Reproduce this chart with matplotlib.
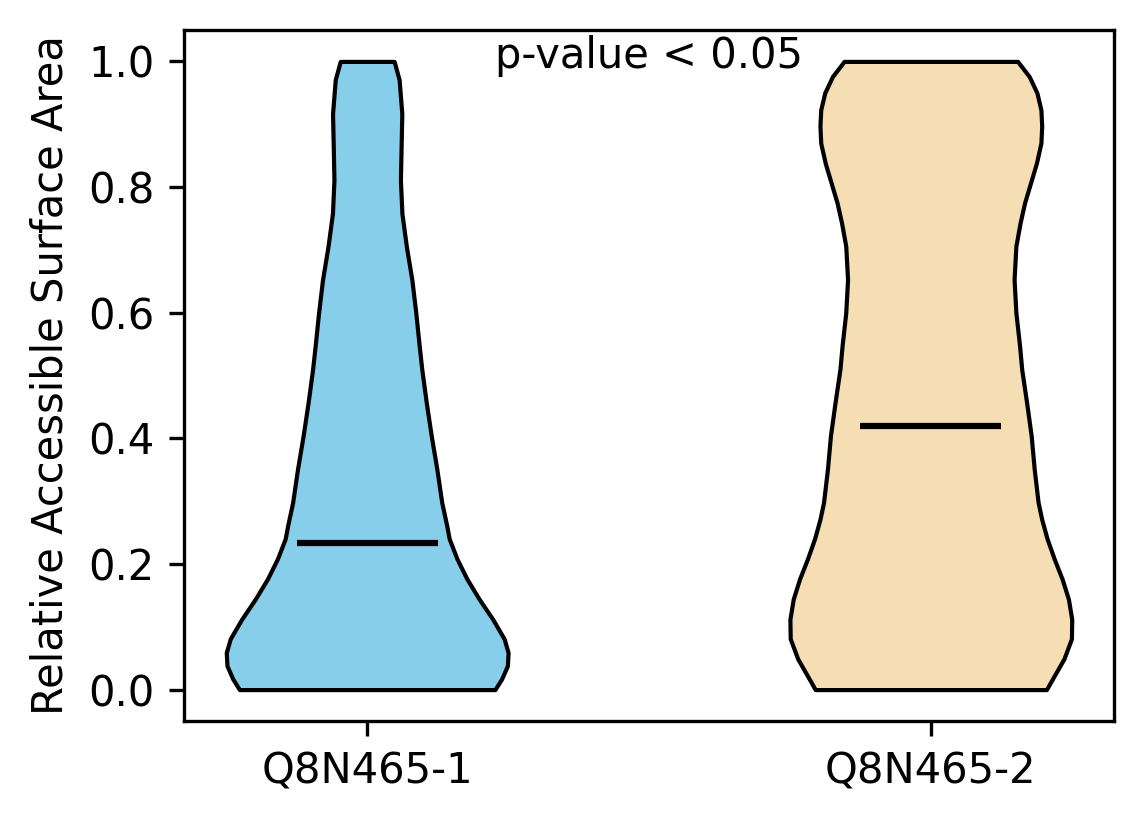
"""
Violin plot of relative accessible surface area for two isoforms
"""
import matplotlib
matplotlib.use('Agg')
import matplotlib.pyplot as plt
import numpy as np

labels = ['Q8N465-1', 'Q8N465-2']
colors = ['skyblue', 'wheat']

# density profile (y value, relative density)
rsa_1 = [0.0, 0.017, 0.038, 0.059, 0.081, 0.112, 0.144, 0.176, 0.208, 0.240,
         0.261, 0.298, 0.351, 0.404, 0.457, 0.51, 0.546, 0.6, 0.652, 0.705,
         0.758, 0.811, 0.865, 0.917, 0.971, 1.0]
dens_1 = [128, 134.7, 140.5, 141.2, 137.2, 125.8, 112.2, 100, 90, 82.2,
          79.7, 74.7, 69.8, 64.2, 59.2, 54.7, 52.2, 48.7, 44.8, 39.3,
          34.8, 33.3, 34.0, 34.7, 32.0, 27.0]
median_1 = 0.233

rsa_2 = [0.0, 0.022, 0.049, 0.081, 0.112, 0.144, 0.176, 0.208, 0.240, 0.271,
         0.298, 0.351, 0.404, 0.457, 0.51, 0.547, 0.6, 0.653, 0.706, 0.743,
         0.775, 0.807, 0.838, 0.870, 0.897, 0.923, 0.95, 0.976, 1.0]
dens_2 = [115.5, 123.3, 133, 140.5, 140.8, 137.5, 131.2, 123.3, 116.2, 110.8,
          107.2, 103.3, 100.3, 95.7, 90.8, 88.7, 85, 83.2, 85, 89.2,
          93.7, 99.7, 105.5, 110, 110.8, 110, 106, 98.3, 86.7]
median_2 = 0.42

pvalue_text = 'p-value < 0.05'

stats = []
for c, v, m in [(rsa_1, dens_1, median_1), (rsa_2, dens_2, median_2)]:
    stats.append({'coords': np.array(c), 'vals': np.array(v),
                  'mean': m, 'median': m, 'min': min(c), 'max': max(c)})

fig = plt.figure(figsize=(1144/300, 824/300), dpi=300)
ax = fig.add_axes([184/1144, 103/824, 930/1144, 691/824])

parts = ax.violin(stats, positions=[1, 2], widths=0.5,
                  showmeans=False, showextrema=False, showmedians=True)
for body, col in zip(parts['bodies'], colors):
    body.set_facecolor(col)
    body.set_edgecolor('black')
    body.set_alpha(1)
    body.set_linewidth(1)
    body.set_joinstyle('round')
parts['cmedians'].set_color('black')
parts['cmedians'].set_linewidth(1.5)

ax.set_xticks([1, 2])
ax.set_xticklabels(labels)
ax.set_xlim(0.675, 2.325)
ax.set_ylim(-0.05, 1.05)
ax.set_ylabel('Relative Accessible Surface Area')
ax.text(1.5, 1.008, pvalue_text, ha='center', va='center')

fig.savefig('out.png', dpi=300)
